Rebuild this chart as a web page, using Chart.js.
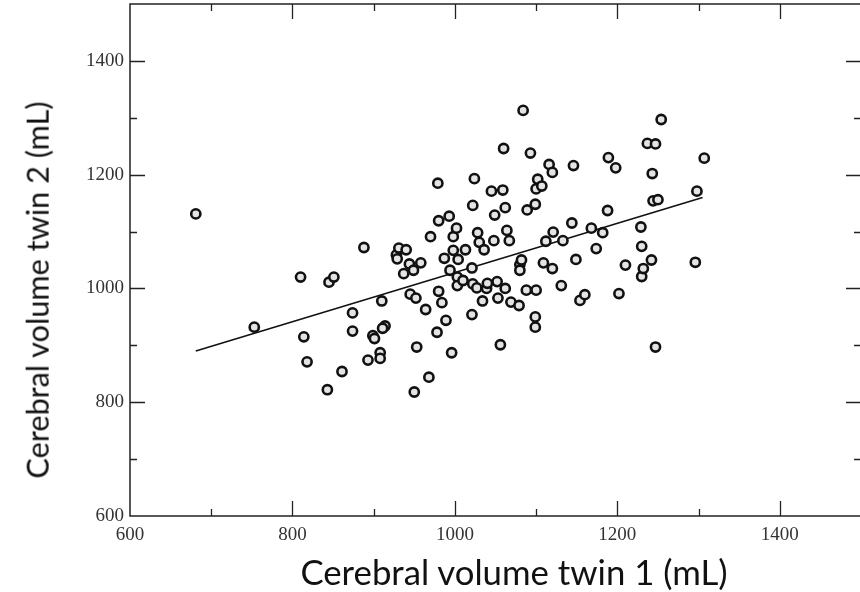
<!DOCTYPE html>
<html><head><meta charset="utf-8">
<script src="https://cdn.jsdelivr.net/npm/chart.js@4/dist/chart.umd.min.js"></script>
<style>
html,body{margin:0;padding:0;background:#fff;overflow:hidden;width:860px;height:592px;position:relative;}
#wrap{position:absolute;left:0;top:0;width:870px;height:592px;}
.atitle{position:absolute;font-family:Lato,"Open Sans",sans-serif;color:#111;white-space:nowrap;line-height:1;}
</style></head><body>
<div id="wrap"><canvas id="c" width="870" height="592"></canvas></div>
<div id="xt" class="atitle">Cerebral volume twin 1 (mL)</div>
<div id="yt" class="atitle">Cerebral volume twin 2 (mL)</div>
<script>
// Data
const twin1 = [681,753,810,814,818,843,845,851,861,874,874,888,893,899,901,908,908,910,914,911,928,929,931,940,937,944,945,949,950,952,953,958,964,968,970,978,979,980,980,984,987,989,993,994,996,998,998,1002,1003,1003,1004,1010,1013,1021,1021,1022,1022,1024,1027,1028,1030,1034,1036,1039,1040,1045,1048,1049,1052,1053,1056,1059,1060,1062,1062,1064,1067,1069,1079,1080,1080,1082,1084,1088,1089,1093,1099,1100,1100,1099,1099,1102,1107,1109,1112,1116,1120,1120,1121,1131,1133,1144,1146,1149,1154,1160,1168,1174,1182,1188,1189,1198,1202,1210,1229,1230,1230,1232,1237,1242,1243,1244,1247,1247,1250,1254,1296,1298,1307];
const twin2 = [1131,932,1020,915,871,822,1011,1020,854,957,925,1072,874,917,912,887,877,978,934,930,1059,1052,1071,1068,1026,1043,990,1032,818,983,897,1045,963,844,1091,923,1185,1119,995,975,1053,944,1127,1032,887,1091,1067,1106,1020,1005,1051,1014,1068,1036,954,1146,1008,1193,1001,1098,1081,978,1068,1000,1009,1171,1084,1129,1012,983,901,1173,1246,1142,1000,1102,1084,976,970,1042,1032,1050,1313,997,1138,1238,1148,1175,997,950,932,1192,1180,1045,1083,1218,1204,1035,1099,1005,1084,1115,1216,1051,979,989,1106,1070,1098,1137,1230,1212,991,1041,1108,1074,1021,1035,1255,1050,1202,1154,1254,897,1156,1297,1046,1171,1229];
const fitX = [681, 1305];
const fitY = [890, 1160];
const xTickLabels = [600, 800, 1000, 1200, 1400];
const yTickLabels = [600, 800, 1000, 1200, 1400];

const pts = twin1.map((x, i) => ({x: x, y: twin2[i]}));
const fit = fitX.map((x, i) => ({x: x, y: fitY[i]}));

const boxTicks = {
  id: 'boxTicks',
  afterDraw(chart) {
    const {ctx, chartArea: a, scales: {x, y}} = chart;
    ctx.save();
    ctx.strokeStyle = '#222';
    ctx.lineWidth = 1.5;
    ctx.strokeRect(a.left, a.top, a.right - a.left, a.bottom - a.top);
    ctx.lineWidth = 1.3;
    ctx.beginPath();
    for (let v = 700; v < 1500; v += 100) {
      const L = (v % 200 === 0) ? 15 : 7;
      const px = Math.round(x.getPixelForValue(v)) + 0.5;
      ctx.moveTo(px, a.bottom); ctx.lineTo(px, a.bottom - L);
      ctx.moveTo(px, a.top); ctx.lineTo(px, a.top + L);
      const py = Math.round(y.getPixelForValue(v)) + 0.5;
      ctx.moveTo(a.left, py); ctx.lineTo(a.left + L, py);
      ctx.moveTo(a.right, py); ctx.lineTo(a.right - L, py);
    }
    ctx.stroke();
    ctx.restore();
  }
};

const tickFont = {family: '"Liberation Serif","DejaVu Serif",serif', size: 19};

new Chart(document.getElementById('c'), {
  type: 'scatter',
  data: {
    datasets: [
      {
        type: 'line', data: fit, borderColor: '#111', borderWidth: 1.6,
        pointRadius: 0, fill: false, order: 2
      },
      {
        data: pts, pointStyle: 'circle', pointRadius: 4.6, pointBorderWidth: 2.6,
        borderColor: '#111', backgroundColor: '#e4e4e4', order: 1
      }
    ]
  },
  options: {
    responsive: false, animation: false, devicePixelRatio: 1,
    layout: {autoPadding: false, padding: {top: 4, right: 9, left: 0, bottom: 0}},
    plugins: {legend: {display: false}, tooltip: {enabled: false}},
    scales: {
      x: {
        type: 'linear', min: 600, max: 1500,
        afterBuildTicks: s => { s.ticks = xTickLabels.map(v => ({value: v})); },
        afterFit: s => { s.height = 76; s.paddingLeft = 0; s.paddingRight = 0; },
        grid: {display: false, drawTicks: false}, border: {display: false},
        ticks: {color: '#333', font: tickFont, padding: 8, maxRotation: 0, autoSkip: false,
                callback: v => String(v)}
      },
      y: {
        type: 'linear', min: 600, max: 1500,
        afterBuildTicks: s => { s.ticks = yTickLabels.map(v => ({value: v})); },
        afterFit: s => { s.width = 130; s.paddingTop = 0; s.paddingBottom = 0; },
        grid: {display: false, drawTicks: false}, border: {display: false},
        ticks: {color: '#333', font: tickFont, padding: 6, autoSkip: false,
                callback: v => String(v)}
      }
    }
  },
  plugins: [boxTicks]
});

// Axis titles as HTML text, sized to match the reference widths
function fitTitle(el, target, cx, cy, rot) {
  const c = document.createElement('canvas').getContext('2d');
  c.font = '30px Lato';
  const w = c.measureText(el.textContent).width;
  const size = 30 * target / w;
  el.style.fontSize = size.toFixed(2) + 'px';
  el.style.left = cx + 'px';
  el.style.top = cy + 'px';
  el.style.transform = 'translate(-50%,-50%)' + (rot ? ' rotate(-90deg)' : '');
}
fitTitle(document.getElementById('xt'), 428, 514, 572, false);
fitTitle(document.getElementById('yt'), 378, 38, 290, true);
</script>
</body></html>
